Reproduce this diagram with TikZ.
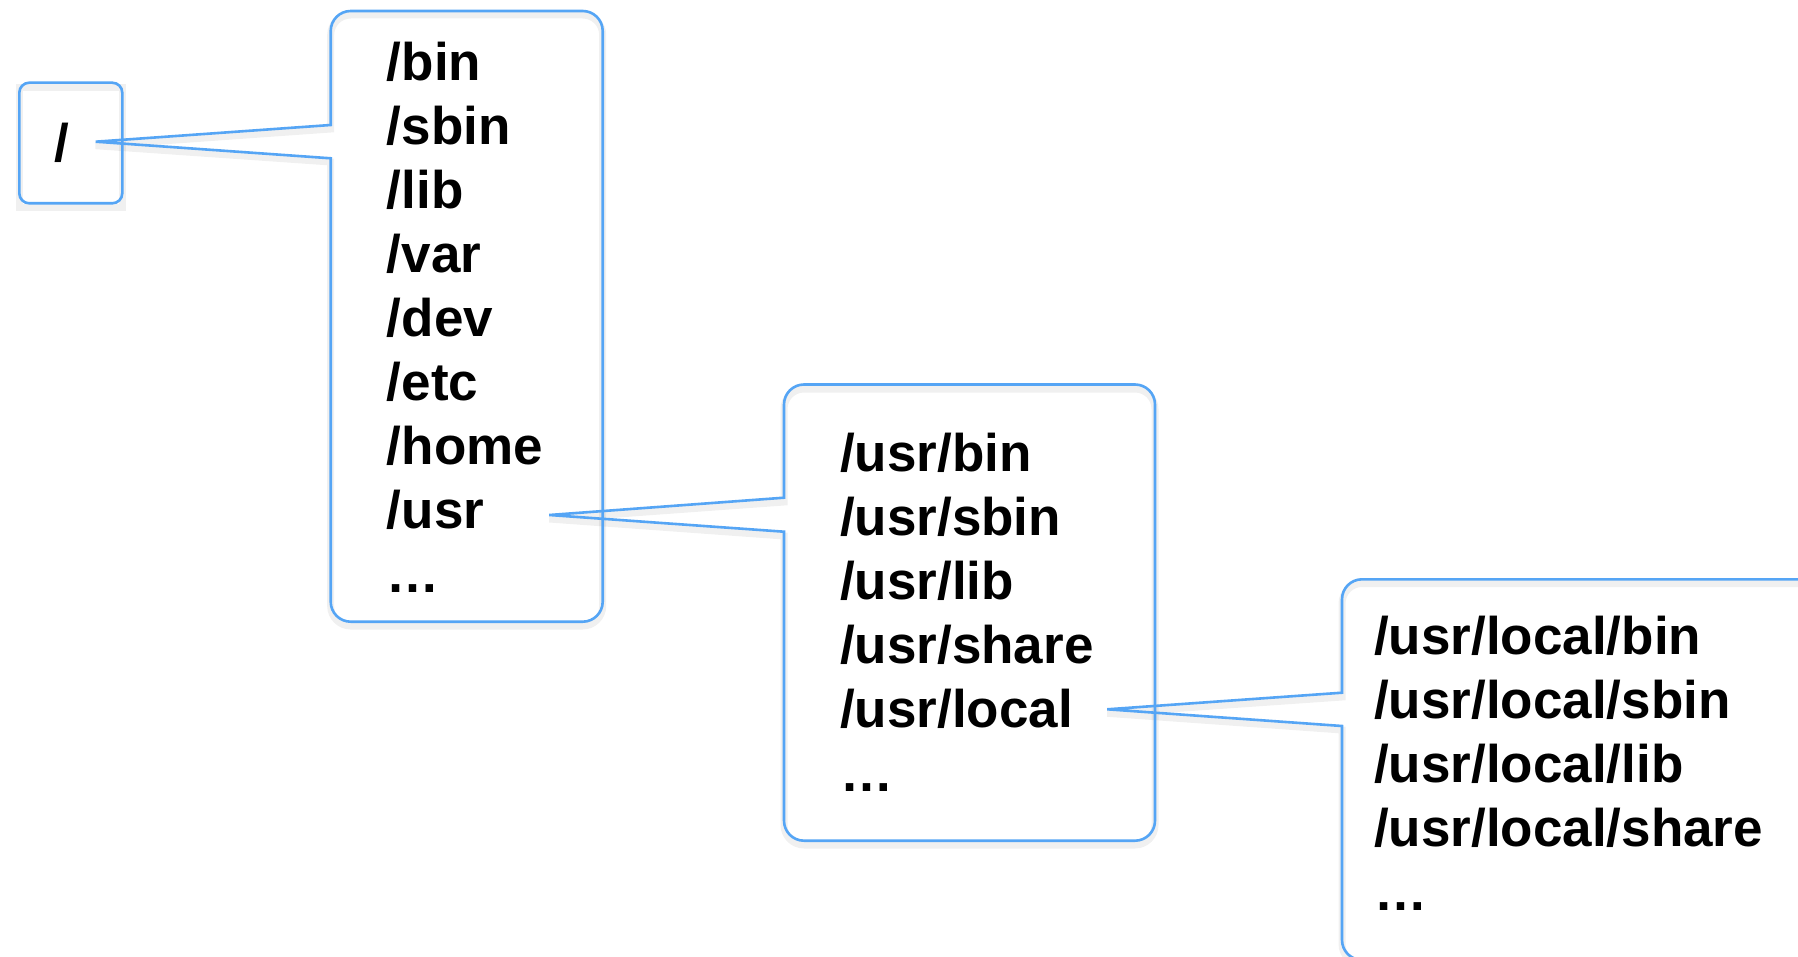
\documentclass[tikz,border=0pt]{standalone}
\usepackage{fontspec}
\setmainfont{Liberation Sans}
\usetikzlibrary{calc}
\definecolor{cblue}{RGB}{85,165,245}
\tikzset{
  outline/.style={draw=cblue, line width=2.6pt, line join=miter},
  shadowline/.style={draw=black, opacity=0.06, line width=7pt},
  listtxt/.style={anchor=base west, align=left, inner sep=0pt, font=\fontsize{53}{64}\selectfont\bfseries},
}
% #1=L #2=T #3=R #4=B #5=notch top #6=notch bottom #7=tip coordinate
\newcommand\calloutpath[7]{(#1,-#5) -- #7 -- (#1,-#6) -- (#1,{-#4+20}) arc[start angle=180,end angle=270,radius=20pt] -- ({#3-20},-#4) arc[start angle=270,end angle=360,radius=20pt] -- (#3,{-#2-20}) arc[start angle=0,end angle=90,radius=20pt] -- ({#1+20},-#2) arc[start angle=90,end angle=180,radius=20pt] -- cycle}
\begin{document}
\begin{tikzpicture}[x=1pt,y=1pt]
\useasboundingbox (0,0) rectangle (1798,-957);
\clip (0,0) rectangle (1798,-957);
\fill[white] (0,0) rectangle (1798,-957);

\coordinate (tip1) at (95.7,-141.7);
\coordinate (tip2) at (549.3,-515);
\coordinate (tip3) at (1107.3,-709.3);

% shadows
\draw[shadowline] (19.3,-88) rectangle (122.3,-208);
\draw[shadowline] \calloutpath{330.7}{15}{602.7}{626}{129}{162}{($(tip1)+(0,-4)$)};
\draw[shadowline] \calloutpath{784}{389}{1155}{845}{502}{536}{($(tip2)+(0,-4)$)};
\draw[shadowline] \calloutpath{1342}{583.5}{1830}{964}{697}{730}{($(tip3)+(0,-4)$)};

% root box
\node[outline, rounded corners=10pt, minimum width=103pt, minimum height=120.6pt, inner sep=0pt] (rootbox) at (70.8,-143) {};
\node[anchor=base, inner sep=0pt, font=\fontsize{53}{64}\selectfont\bfseries] (root) at (62,-162) {/};

% callouts
\draw[outline] \calloutpath{330.7}{11}{602.7}{621.7}{125}{158.3}{(tip1)};
\draw[outline] \calloutpath{784}{384.5}{1155}{840.7}{497.7}{531.7}{(tip2)};
\draw[outline] \calloutpath{1342}{579.3}{1830}{960}{692.7}{726}{(tip3)};

% (base anchor of a multi-line node is the baseline of its last line)
\node[listtxt] (list1) at (386.7,-592) {/bin\\/sbin\\/lib\\/var\\/dev\\/etc\\/home\\/usr\\…};
\node[listtxt] (list2) at (840,-791.7) {/usr/bin\\/usr/sbin\\/usr/lib\\/usr/share\\/usr/local\\…};
\node[listtxt] (list3) at (1374,-910) {/usr/local/bin\\/usr/local/sbin\\/usr/local/lib\\/usr/local/share\\…};
\end{tikzpicture}
\end{document}
